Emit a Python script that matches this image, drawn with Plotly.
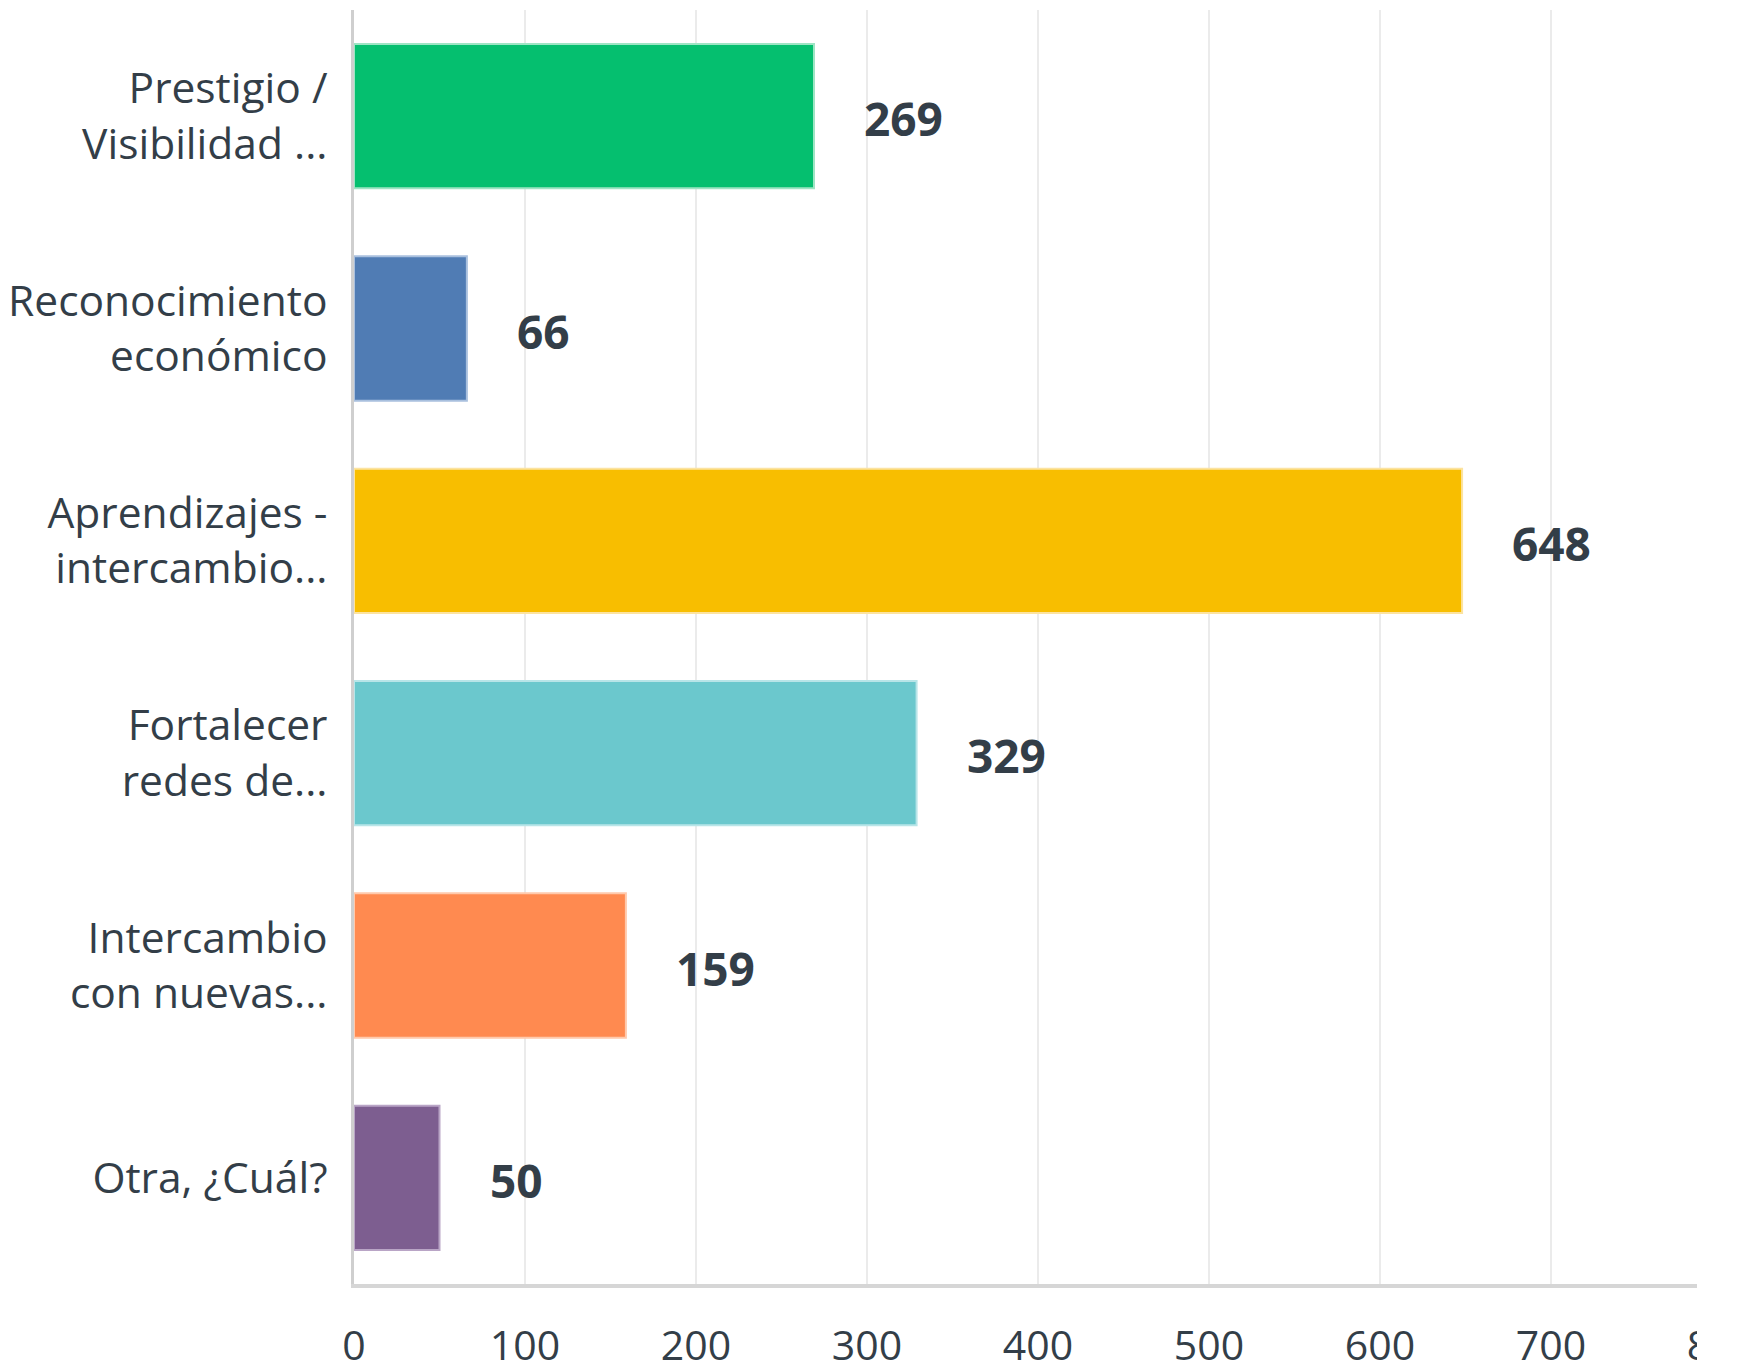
import plotly.graph_objects as go

categories = [
    "Prestigio /<br>Visibilidad ...",
    "Reconocimiento<br>económico",
    "Aprendizajes -<br>intercambio...",
    "Fortalecer<br>redes de...",
    "Intercambio<br>con nuevas...",
    "Otra, ¿Cuál?",
]
values = [269, 66, 648, 329, 159, 50]
colors = ["#05BF6F", "#507CB4", "#F8BE00", "#6BC8CD", "#FF8A50", "#7D5E90"]
edge_colors = ["#9EE5C4", "#A9C0DE", "#FCE3A0", "#B8E5E8", "#FFC9AC", "#B9A5C6"]
x_ticks = [0, 100, 200, 300, 400, 500, 600, 700, 800]

# page body adds an 8px offset
W, H = 1729, 1356
ml, mr, mt, mb = 346, 15, 2, 80

fig = go.Figure()
fig.add_trace(go.Bar(
    y=categories, x=values, orientation="h",
    marker=dict(color=colors, line=dict(color=edge_colors, width=2)),
    hoverinfo="skip", showlegend=False,
))

for c, v in zip(categories, values):
    fig.add_annotation(
        x=v, y=c, xref="x", yref="y", text=f"<b>{v}</b>",
        showarrow=False, xanchor="left", xshift=48, yshift=-2,
        font=dict(family="Open Sans", size=46, color="#333E48"),
    )

# crop the right edge like the reference
plot_w = W - ml - mr
x_cut = (1689 - ml) / plot_w
fig.add_shape(type="rect", xref="paper", yref="paper",
              x0=x_cut, x1=1.2, y0=-0.2, y1=1.1,
              fillcolor="white", line=dict(width=0), layer="above")

fig.update_layout(
    width=W, height=H,
    margin=dict(l=ml, r=mr, t=mt, b=mb, autoexpand=False),
    paper_bgcolor="white", plot_bgcolor="white",
    bargap=0.32,
    font=dict(family="Open Sans", color="#333E48"),
)
fig.update_xaxes(
    range=[0, 800], tickvals=x_ticks, ticktext=[str(t) for t in x_ticks],
    showgrid=True, gridcolor="#EBEBEB", gridwidth=2,
    zeroline=False, showline=True, linecolor="#D6D6D6", linewidth=4,
    ticks="", ticklabelstandoff=23, automargin=False,
    ticklabeloverflow="allow",
    tickfont=dict(family="Open Sans", size=41, color="#333E48"),
    fixedrange=True,
)
fig.update_yaxes(
    autorange="reversed", showgrid=False, zeroline=False,
    showline=True, linecolor="#CFCFCF", linewidth=3,
    ticks="", ticklabelstandoff=15, automargin=False,
    tickfont=dict(family="Open Sans", size=42.5, color="#333E48"),
    fixedrange=True,
)

fig.write_html("out.html", config={"displayModeBar": False})
